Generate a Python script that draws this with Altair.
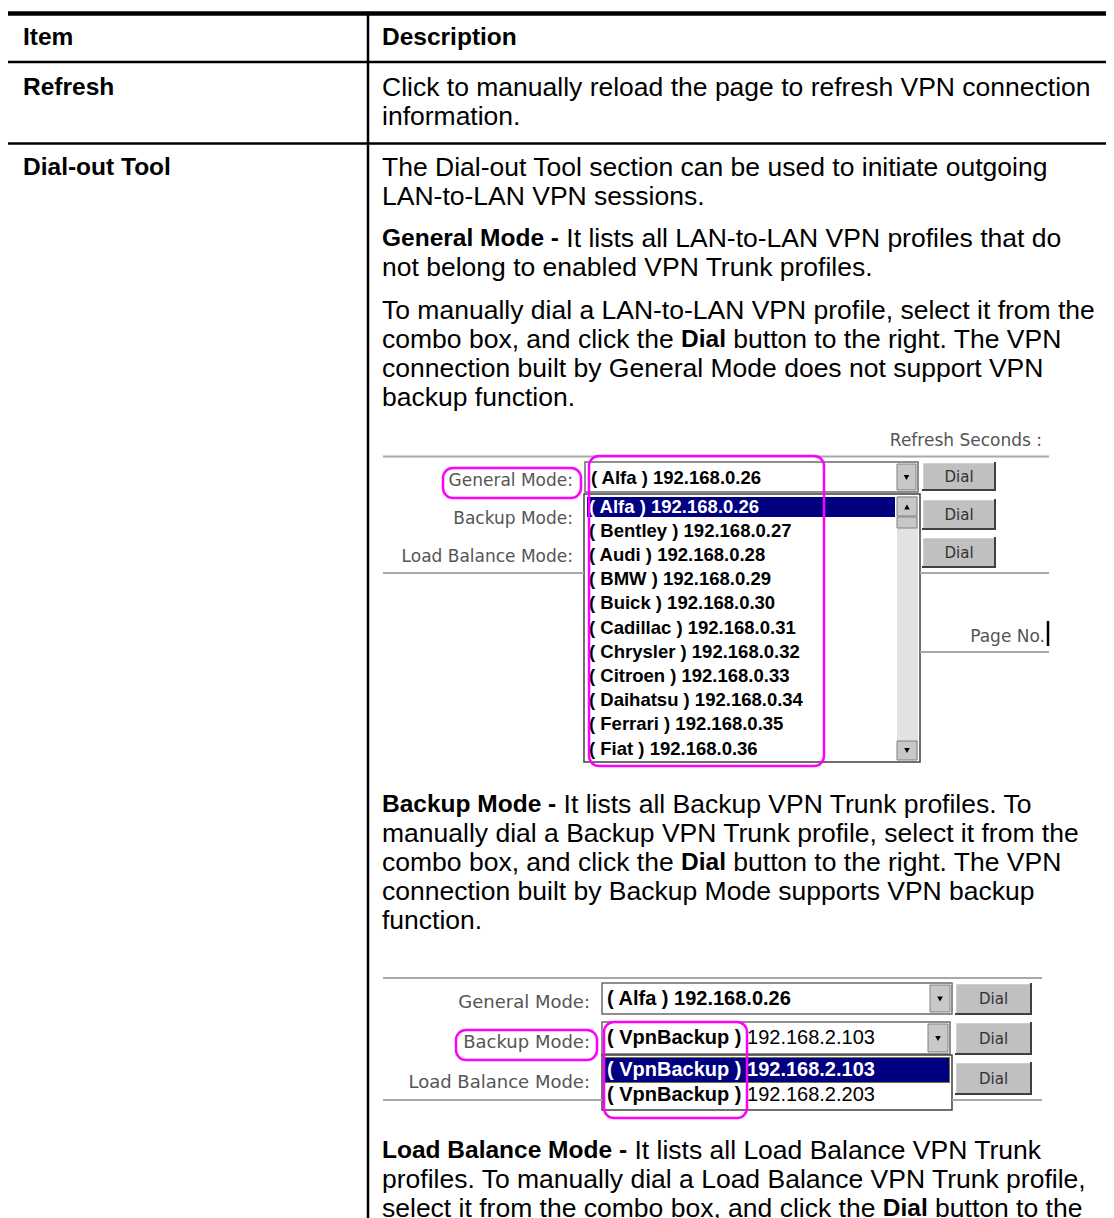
import altair as alt
import pandas as pd

# ---------------- content ----------------
HEADER = ["Item", "Description"]
ITEMS = ["Refresh", "Dial-out Tool"]

REFRESH_LINES = [
    [("Click to manually reload the page to refresh VPN connection", False)],
    [("information.", False)],
]
DIAL_PARAS_TOP = [
    [[("The Dial-out Tool section can be used to initiate outgoing", False)],
     [("LAN-to-LAN VPN sessions.", False)]],
    [[("General Mode -", True), (" It lists all LAN-to-LAN VPN profiles that do", False)],
     [("not belong to enabled VPN Trunk profiles.", False)]],
    [[("To manually dial a LAN-to-LAN VPN profile, select it from the", False)],
     [("combo box, and click the ", False), ("Dial", True), (" button to the right. The VPN", False)],
     [("connection built by General Mode does not support VPN", False)],
     [("backup function.", False)]],
]
DIAL_PARA_MID = [
    [("Backup Mode -", True), (" It lists all Backup VPN Trunk profiles. To", False)],
    [("manually dial a Backup VPN Trunk profile, select it from the", False)],
    [("combo box, and click the ", False), ("Dial", True), (" button to the right. The VPN", False)],
    [("connection built by Backup Mode supports VPN backup", False)],
    [("function.", False)],
]
DIAL_PARA_END = [
    [("Load Balance Mode -", True), (" It lists all Load Balance VPN Trunk", False)],
    [("profiles. To manually dial a Load Balance VPN Trunk profile,", False)],
    [("select it from the combo box, and click the ", False), ("Dial", True), (" button to the", False)],
]

GUI_LABELS = ["General Mode:", "Backup Mode:", "Load Balance Mode:"]
GUI_DIAL = "Dial"
GUI_REFRESH = "Refresh Seconds :"
GUI_PAGE = "Page No."
PROFILES_1 = ["Alfa", "Bentley", "Audi", "BMW", "Buick", "Cadillac", "Chrysler",
              "Citroen", "Daihatsu", "Ferrari", "Fiat"]
IPS_1 = ["192.168.0.26", "192.168.0.27", "192.168.0.28", "192.168.0.29", "192.168.0.30",
         "192.168.0.31", "192.168.0.32", "192.168.0.33", "192.168.0.34", "192.168.0.35",
         "192.168.0.36"]
PROFILES_2 = ["VpnBackup", "VpnBackup"]
IPS_2 = ["192.168.2.103", "192.168.2.203"]

# ---------------- font metrics (Arial / Liberation Sans, per 1000 em) ----------------
REG = {' ': 278, '(': 333, ')': 333, ',': 278, '-': 333, '.': 278, ':': 278}
BOLD = {' ': 278, '(': 333, ')': 333, ',': 278, '-': 333, '.': 278, ':': 333}
for d in "0123456789":
    REG[d] = 556
    BOLD[d] = 556
REG.update(dict(zip("ABCDEFGHIJKLMNOPQRSTUVWXYZ",
                    [667, 667, 722, 722, 667, 611, 778, 722, 278, 500, 667, 556, 833, 722, 778, 667, 778,
                     722, 667, 611, 722, 667, 944, 667, 667, 611])))
REG.update(dict(zip("abcdefghijklmnopqrstuvwxyz",
                    [556, 556, 500, 556, 556, 278, 556, 556, 222, 222, 500, 222, 833, 556, 556, 556, 556,
                     333, 500, 278, 556, 500, 722, 500, 500, 500])))
BOLD.update(dict(zip("ABCDEFGHIJKLMNOPQRSTUVWXYZ",
                     [722, 722, 722, 722, 667, 611, 778, 722, 278, 556, 722, 611, 833, 722, 778, 667, 778,
                      722, 667, 611, 722, 667, 944, 667, 667, 611])))
BOLD.update(dict(zip("abcdefghijklmnopqrstuvwxyz",
                     [556, 611, 556, 611, 556, 333, 611, 611, 278, 278, 556, 278, 889, 611, 611, 611, 611,
                      389, 556, 333, 611, 556, 778, 556, 556, 500])))


def tw(s, bold, size):
    t = BOLD if bold else REG
    return sum(t.get(c, 556) for c in s) * size / 1000.0


DOC_REG = 26.5
DOC_BOLD = 24.5
PITCH = 29
DESC_X = 382
ITEM_X = 23

doc_rows = []  # x, y, text, bold


def put_line(segs, x0, y):
    x = x0
    for text, bold in segs:
        size = DOC_BOLD if bold else DOC_REG
        stripped = text.lstrip(' ')
        lead = len(text) - len(stripped)
        xs = x + tw(' ' * lead, bold, size)
        if stripped:
            doc_rows.append(dict(x=xs, y=y, text=stripped, bold=bold))
        x += tw(text, bold, size)


# header + items
put_line([(HEADER[0], True)], ITEM_X, 38)
put_line([(HEADER[1], True)], DESC_X, 38)
put_line([(ITEMS[0], True)], ITEM_X, 88)
for i, ln in enumerate(REFRESH_LINES):
    put_line(ln, DESC_X, 88 + i * PITCH)
put_line([(ITEMS[1], True)], ITEM_X, 168)
for start, para in zip([168, 239, 311], DIAL_PARAS_TOP):
    for i, ln in enumerate(para):
        put_line(ln, DESC_X, start + i * PITCH)
for i, ln in enumerate(DIAL_PARA_MID):
    put_line(ln, DESC_X, 805 + i * PITCH)
for i, ln in enumerate(DIAL_PARA_END):
    put_line(ln, DESC_X, 1151 + i * PITCH)

doc_df = pd.DataFrame(doc_rows)

# ---------------- GUI geometry ----------------
rects = []   # x, x2, y, y2, fill, stroke, sw
rules = []   # x, x2, y, y2, color, sw
tris = []    # x, y, shape
labels = []  # x, y, text, size  (right aligned, gray)
dials = []   # x, y
gtext = []   # x, y, text, size, color, bold
pinks = []   # x, x2, y, y2
focus = []


def rect(x1, y1, x2, y2, fill, stroke="transparent", sw=0):
    rects.append(dict(x=x1, x2=x2, y=y1, y2=y2, fill=fill, stroke=stroke, sw=sw))


def rule(x1, y1, x2, y2, color, sw):
    rules.append(dict(x=x1, x2=x2, y=y1, y2=y2, color=color, sw=sw))


def button(x1, y1, x2, y2):
    rect(x1, y1, x2, y2, "#c0c0c0")
    rule(x1, y1 + 0.5, x2, y1 + 0.5, "#ffffff", 1.5)
    rule(x1 + 0.5, y1, x1 + 0.5, y2, "#ffffff", 1.5)
    rule(x1, y2 - 1, x2, y2 - 1, "#404040", 2)
    rule(x2 - 1, y1, x2 - 1, y2, "#404040", 2)
    dials.append(dict(x=(x1 + x2) / 2, y=(y1 + y2) / 2))


def combo(x1, y1, x2, y2, ax1, ax2):
    rect(x1, y1, x2, y2, "#ffffff", "#6a6a6a", 1.5)
    rect(ax1, y1 + 2, ax2, y2 - 2, "#c8c8c8", "#808080", 1)
    tris.append(dict(x=(ax1 + ax2) / 2, y=(y1 + y2) / 2 + 0.5, shape="triangle-down"))


# table rules
rule(8, 13.5, 1114, 13.5, "#000000", 4.5)
rule(8, 62, 1114, 62, "#000000", 2.5)
rule(8, 143.5, 1114, 143.5, "#000000", 2.5)
rule(368, 13, 368, 1218, "#000000", 2.5)

# ---- screenshot 1 ----
G = "#a8a8a8"
rule(383, 456.5, 1049, 456.5, G, 2)
rule(383, 573, 584, 573, G, 2)
rule(920, 573, 1049, 573, G, 2)
rule(920, 652, 1049, 652, G, 2)
rule(1048, 621, 1048, 646, "#000000", 2.5)
labels.append(dict(x=1042, y=441, text=GUI_REFRESH, size=17))
labels.append(dict(x=1045, y=637, text=GUI_PAGE, size=17))
for i, lab in enumerate(GUI_LABELS):
    labels.append(dict(x=573, y=481 + i * 38, text=lab, size=17))

combo(585, 462, 918, 492, 897, 916)
for y1, y2 in [(462, 491), (499, 530), (537, 568)]:
    button(922, y1, 996, y2)
# drop list
rect(584, 494, 920, 762, "#ffffff", "#404040", 1.5)
rect(587, 497, 895, 517, "#000080")
rect(897, 496, 918, 760, "#e2e2e2")
rect(897, 497, 917, 516, "#c8c8c8", "#808080", 1)
rect(897, 517, 917, 528, "#c8c8c8", "#808080", 1)
rect(897, 741, 917, 760, "#c8c8c8", "#808080", 1)
tris.append(dict(x=907, y=507, shape="triangle-up"))
tris.append(dict(x=907, y=750.5, shape="triangle-down"))

gtext.append(dict(x=591, y=478, text=f"( {PROFILES_1[0]} ) {IPS_1[0]}", size=18.5,
                  color="#000000", bold=True))
for i, (p, ip) in enumerate(zip(PROFILES_1, IPS_1)):
    gtext.append(dict(x=589, y=506.5 + i * 24.2, text=f"( {p} ) {ip}", size=18.5,
                      color="#ffffff" if i == 0 else "#000000", bold=True))
pinks.append(dict(x=443, x2=581, y=468, y2=498))
pinks.append(dict(x=589, x2=824, y=456, y2=766))

# ---- screenshot 2 ----
rule(383, 978, 1042, 978, G, 2)
rule(383, 1100, 602, 1100, G, 2)
rule(952, 1100, 1042, 1100, G, 2)
for i, lab in enumerate(GUI_LABELS):
    labels.append(dict(x=590, y=1003 + i * 40, text=lab, size=18))
combo(602, 983, 952, 1014, 930, 950)
combo(602, 1022, 950, 1054, 928, 948)
for y1, y2 in [(983, 1015), (1022, 1055), (1062, 1095)]:
    button(955, y1, 1032, y2)
rect(602, 1055, 952, 1110, "#ffffff", "#404040", 1.5)
rect(604, 1057, 950, 1083, "#000080")
focus.append(dict(x=604.5, x2=949.5, y=1057.5, y2=1082.5))

S2 = 20
gtext.append(dict(x=607, y=999, text=f"( {PROFILES_1[0]} ) {IPS_1[0]}", size=S2,
                  color="#000000", bold=True))
rows2 = [(1038, PROFILES_2[0], IPS_2[0], "#000000", False),
         (1070, PROFILES_2[0], IPS_2[0], "#ffffff", True),
         (1095, PROFILES_2[1], IPS_2[1], "#000000", False)]
for y, p, ip, col, ipbold in rows2:
    head = f"( {p} )"
    gtext.append(dict(x=607, y=y, text=head, size=S2, color=col, bold=True))
    gtext.append(dict(x=607 + tw(head + " ", True, S2), y=y, text=ip, size=S2,
                      color=col, bold=ipbold))
pinks.append(dict(x=456, x2=597, y=1030, y2=1060))
pinks.append(dict(x=604, x2=747, y=1022, y2=1118))

for d in dials:
    d["text"] = GUI_DIAL

# ---------------- chart ----------------
# chart pixel + 8 (page margin) = reference pixel
XS = alt.Scale(domain=[8, 1106], nice=False, zero=False)
YS = alt.Scale(domain=[8, 1218], nice=False, zero=False, reverse=True)


def X(f="x"):
    return alt.X(f"{f}:Q", scale=XS, axis=None)


def Y(f="y"):
    return alt.Y(f"{f}:Q", scale=YS, axis=None)


rect_layer = alt.Chart(pd.DataFrame(rects)).mark_rect().encode(
    x=X(), x2="x2:Q", y=Y(), y2="y2:Q",
    fill=alt.Fill("fill:N", scale=None),
    stroke=alt.Stroke("stroke:N", scale=None),
    strokeWidth=alt.StrokeWidth("sw:Q", scale=None),
)
rule_layer = alt.Chart(pd.DataFrame(rules)).mark_rule(strokeCap="butt").encode(
    x=X(), x2="x2:Q", y=Y(), y2="y2:Q",
    color=alt.Color("color:N", scale=None),
    size=alt.Size("sw:Q", scale=None),
)
tri_layer = alt.Chart(pd.DataFrame(tris)).mark_point(filled=True, color="#000000", size=32, opacity=1).encode(
    x=X(), y=Y(), shape=alt.Shape("shape:N", scale=None),
)
focus_layer = alt.Chart(pd.DataFrame(focus)).mark_rect(
    fill="transparent", stroke="#e8e800", strokeWidth=1, strokeDash=[1, 1]
).encode(x=X(), x2="x2:Q", y=Y(), y2="y2:Q")

doc_reg = alt.Chart(doc_df[~doc_df.bold]).mark_text(
    font="Liberation Sans", fontSize=DOC_REG, align="left", baseline="middle", color="#000000"
).encode(x=X(), y=Y(), text="text:N")
doc_bold = alt.Chart(doc_df[doc_df.bold]).mark_text(
    font="Liberation Sans", fontSize=DOC_BOLD, fontWeight="bold", align="left", baseline="middle",
    color="#000000"
).encode(x=X(), y=Y(), text="text:N")

label_layer = alt.Chart(pd.DataFrame(labels)).mark_text(
    font="DejaVu Sans", align="right", baseline="middle", color="#555555"
).encode(x=X(), y=Y(), text="text:N", size=alt.Size("size:Q", scale=None))
dial_layer = alt.Chart(pd.DataFrame(dials)).mark_text(
    font="DejaVu Sans", fontSize=15, align="center", baseline="middle", color="#333333"
).encode(x=X(), y=Y(), text="text:N")

gdf = pd.DataFrame(gtext)
g_bold = alt.Chart(gdf[gdf.bold]).mark_text(
    font="Liberation Sans", fontWeight="bold", align="left", baseline="middle"
).encode(x=X(), y=Y(), text="text:N", size=alt.Size("size:Q", scale=None),
         color=alt.Color("color:N", scale=None))
g_reg = alt.Chart(gdf[~gdf.bold]).mark_text(
    font="Liberation Sans", align="left", baseline="middle"
).encode(x=X(), y=Y(), text="text:N", size=alt.Size("size:Q", scale=None),
         color=alt.Color("color:N", scale=None))

pink_layer = alt.Chart(pd.DataFrame(pinks)).mark_rect(
    cornerRadius=10, fill="transparent", stroke="#ff00ff", strokeWidth=2.5
).encode(x=X(), x2="x2:Q", y=Y(), y2="y2:Q")

chart = alt.layer(
    rect_layer, rule_layer, tri_layer, focus_layer,
    doc_reg, doc_bold, label_layer, dial_layer, g_bold, g_reg, pink_layer,
).properties(
    width=1098, height=1210, padding=0, autosize="none", background="#ffffff"
).configure_view(strokeWidth=0)

chart.save("out.html", embed_options={"renderer": "svg", "actions": False})
